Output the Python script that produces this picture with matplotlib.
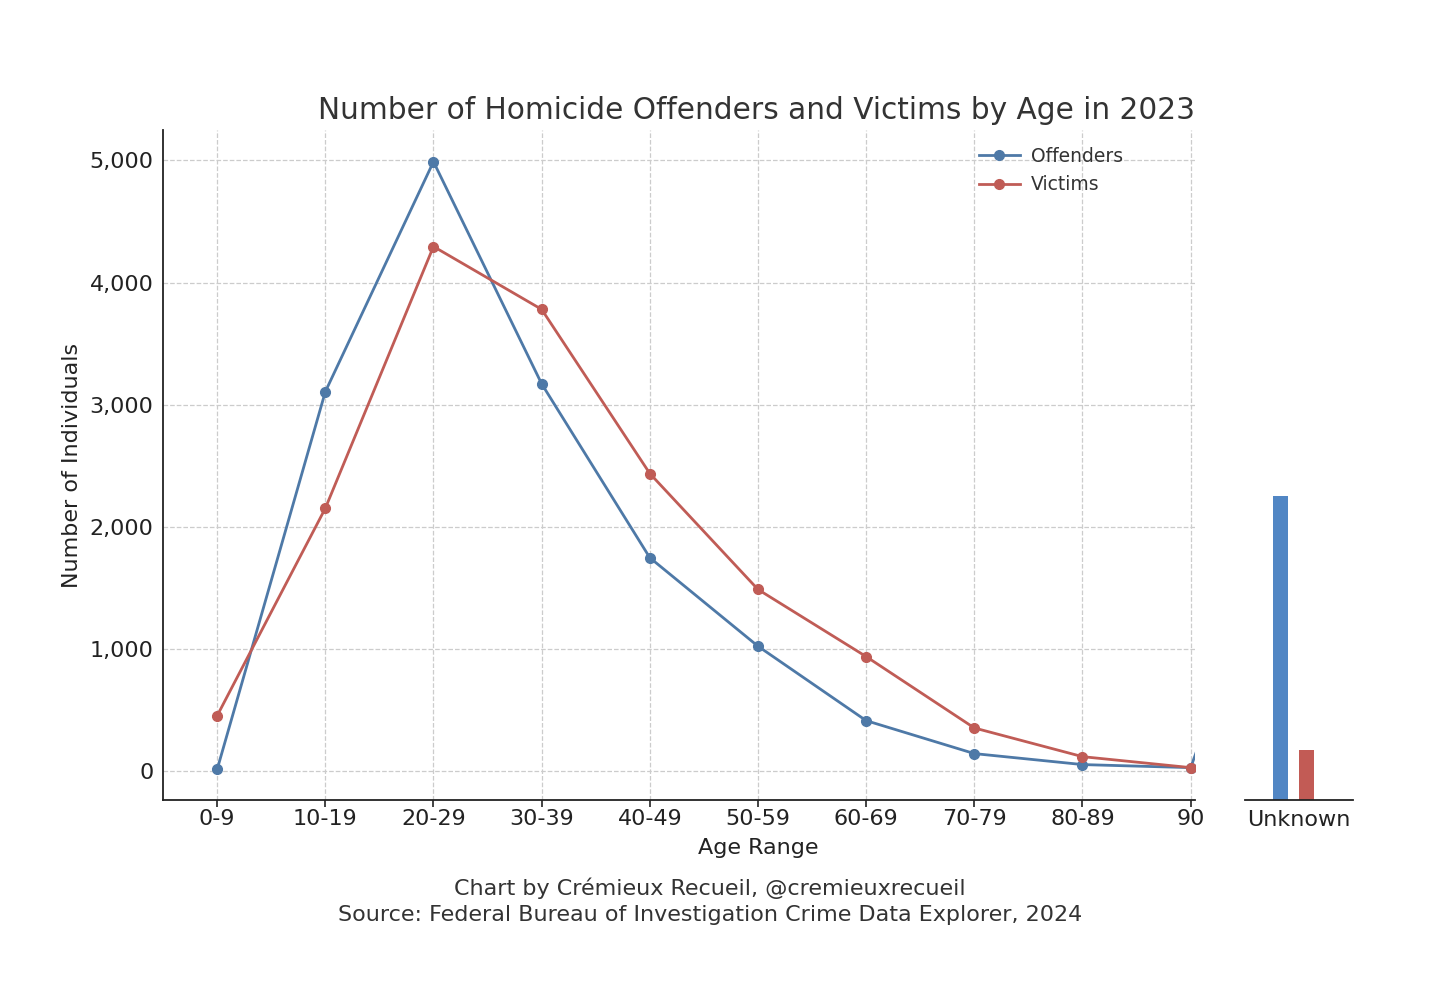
import matplotlib
matplotlib.use("Agg")
import matplotlib.pyplot as plt

# values
age_ranges = ['0-9', '10-19', '20-29', '30-39', '40-49', '50-59', '60-69', '70-79', '80-89', '90']
offenders = [10, 3105, 4990, 3170, 1745, 1020, 410, 140, 50, 25]
victims = [450, 2150, 4295, 3780, 2435, 1485, 935, 350, 115, 25]
unknown_offenders = 2490
unknown_victims = 410

line_blue = '#4e79a7'
line_red = '#c05c56'
bar_blue = '#5186c4'
bar_red = '#c25b55'
text_col = '#333333'
axis_col = '#222222'

fig = plt.figure(figsize=(14.52, 10.06), dpi=100)
ax = fig.add_axes([0.1123, 0.2048, 0.7107, 0.666])
ax2 = fig.add_axes([0.8574, 0.2048, 0.0744, 0.666])

x = list(range(len(age_ranges)))
# the lines run on to the "unknown" point, which sits past the clipped edge
ax.plot(x + [len(x)], offenders + [unknown_offenders], color=line_blue, lw=2,
        marker='o', ms=7, label='Offenders')
ax.plot(x + [len(x)], victims + [unknown_victims], color=line_red, lw=2,
        marker='o', ms=7, label='Victims')

ax.set_xlim(-0.5, 9.04)
ax.set_ylim(-240, 5250)
ax.set_xticks(x)
ax.set_xticklabels(age_ranges)
ax.set_yticks([0, 1000, 2000, 3000, 4000, 5000])
ax.set_yticklabels(['0', '1,000', '2,000', '3,000', '4,000', '5,000'])
ax.tick_params(axis='x', labelsize=16, colors=axis_col, length=5, width=1.2, pad=1.5)
ax.tick_params(axis='y', labelsize=16, colors=axis_col, length=0, pad=7)
ax.grid(True, ls='--', color='#cccccc', lw=0.9)
ax.set_axisbelow(True)
for s in ['top', 'right']:
    ax.spines[s].set_visible(False)
for s in ['left', 'bottom']:
    ax.spines[s].set_linewidth(1.3)
    ax.spines[s].set_color(axis_col)

ax.set_xlabel('Age Range', fontsize=16, color=axis_col, labelpad=5)
# label sits at the middle of the whole panel (incl. the unknown part)
ax.xaxis.set_label_coords(0.5766, -0.057)
ax.set_ylabel('Number of Individuals', fontsize=16, color=axis_col, labelpad=5)
ax.set_title('Number of Homicide Offenders and Victims by Age in 2023',
             fontsize=21.3, color=text_col, loc='right', pad=8)

ax.legend(loc='upper right', bbox_to_anchor=(0.947, 1.0), frameon=False,
          fontsize=13.5, handlelength=2.2, handletextpad=0.6, labelcolor=text_col)

# unknown bars on their own little axes, same pixel scale as the main one
ax2.bar([-0.17], [unknown_offenders], width=0.14, color=bar_blue)
ax2.bar([0.07], [unknown_victims], width=0.14, color=bar_red)
ax2.set_xlim(-0.5, 0.5)
ax2.set_ylim(0, 5490)
ax2.set_xticks([0])
ax2.set_xticklabels(['Unknown'])
ax2.tick_params(axis='x', labelsize=16, colors=axis_col, length=0, pad=7)
ax2.tick_params(axis='y', left=False, labelleft=False)
for s in ['top', 'right', 'left']:
    ax2.spines[s].set_visible(False)
ax2.spines['bottom'].set_linewidth(1.3)
ax2.spines['bottom'].set_color(axis_col)

fig.text(0.489, 0.110, 'Chart by Crémieux Recueil, @cremieuxrecueil',
         ha='center', fontsize=16, color=text_col)
fig.text(0.489, 0.084, 'Source: Federal Bureau of Investigation Crime Data Explorer, 2024',
         ha='center', fontsize=16, color=text_col)

fig.savefig('out.png', dpi=100)
